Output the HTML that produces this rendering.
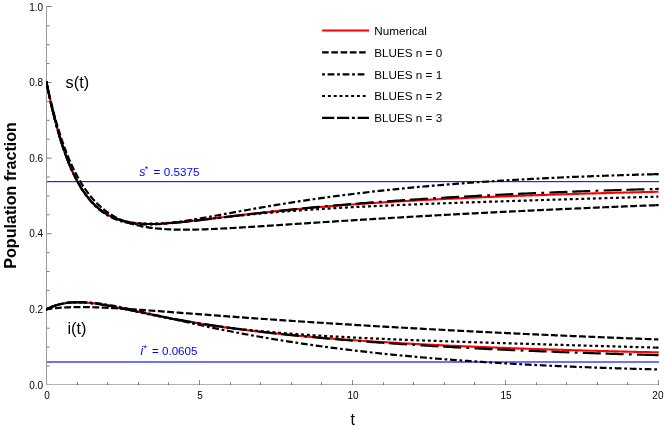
<!DOCTYPE html>
<html><head><meta charset="utf-8"><title>BLUES SIRS plot</title>
<style>html,body{margin:0;padding:0;background:#fff;}body{width:664px;height:430px;overflow:hidden;position:relative;font-family:"Liberation Sans",sans-serif;}</style>
</head><body>
<svg width="664" height="430" viewBox="0 0 664 430" style="position:absolute;left:0;top:0;will-change:transform">
<rect width="664" height="430" fill="#fff"/>
<g stroke="#787878" stroke-width="1" shape-rendering="crispEdges">
<line x1="46.5" x2="46.5" y1="6" y2="385" stroke="#9a9a9a"/>
<line x1="46" x2="659" y1="384.5" y2="384.5" stroke="#b2b2b2"/>
</g>
<g stroke="#7a7a7a" stroke-width="1">
<line x1="47" x2="49.50" y1="366.00" y2="366.00"/>
<line x1="47" x2="49.50" y1="347.10" y2="347.10"/>
<line x1="47" x2="49.50" y1="328.20" y2="328.20"/>
<line x1="47" x2="51.50" y1="309.30" y2="309.30"/>
<line x1="47" x2="49.50" y1="290.40" y2="290.40"/>
<line x1="47" x2="49.50" y1="271.50" y2="271.50"/>
<line x1="47" x2="49.50" y1="252.60" y2="252.60"/>
<line x1="47" x2="51.50" y1="233.70" y2="233.70"/>
<line x1="47" x2="49.50" y1="214.80" y2="214.80"/>
<line x1="47" x2="49.50" y1="195.90" y2="195.90"/>
<line x1="47" x2="49.50" y1="177.00" y2="177.00"/>
<line x1="47" x2="51.50" y1="158.10" y2="158.10"/>
<line x1="47" x2="49.50" y1="139.20" y2="139.20"/>
<line x1="47" x2="49.50" y1="120.30" y2="120.30"/>
<line x1="47" x2="49.50" y1="101.40" y2="101.40"/>
<line x1="47" x2="51.50" y1="82.50" y2="82.50"/>
<line x1="47" x2="49.50" y1="63.60" y2="63.60"/>
<line x1="47" x2="49.50" y1="44.70" y2="44.70"/>
<line x1="47" x2="49.50" y1="25.80" y2="25.80"/>
<line x1="47" x2="51.50" y1="6.50" y2="6.50"/>
</g>
<g stroke="#747474" stroke-width="1" shape-rendering="crispEdges">
<line x1="77.50" x2="77.50" y1="384" y2="382.00" stroke="#8c8c8c"/><line x1="77.50" x2="77.50" y1="384" y2="385" stroke="#6c6c6c"/>
<line x1="107.50" x2="107.50" y1="384" y2="382.00" stroke="#8c8c8c"/><line x1="107.50" x2="107.50" y1="384" y2="385" stroke="#6c6c6c"/>
<line x1="138.50" x2="138.50" y1="384" y2="382.00" stroke="#8c8c8c"/><line x1="138.50" x2="138.50" y1="384" y2="385" stroke="#6c6c6c"/>
<line x1="168.50" x2="168.50" y1="384" y2="382.00" stroke="#8c8c8c"/><line x1="168.50" x2="168.50" y1="384" y2="385" stroke="#6c6c6c"/>
<line x1="199.50" x2="199.50" y1="384" y2="380.00" stroke="#8c8c8c"/><line x1="199.50" x2="199.50" y1="384" y2="385" stroke="#6c6c6c"/>
<line x1="230.50" x2="230.50" y1="384" y2="382.00" stroke="#8c8c8c"/><line x1="230.50" x2="230.50" y1="384" y2="385" stroke="#6c6c6c"/>
<line x1="260.50" x2="260.50" y1="384" y2="382.00" stroke="#8c8c8c"/><line x1="260.50" x2="260.50" y1="384" y2="385" stroke="#6c6c6c"/>
<line x1="291.50" x2="291.50" y1="384" y2="382.00" stroke="#8c8c8c"/><line x1="291.50" x2="291.50" y1="384" y2="385" stroke="#6c6c6c"/>
<line x1="321.50" x2="321.50" y1="384" y2="382.00" stroke="#8c8c8c"/><line x1="321.50" x2="321.50" y1="384" y2="385" stroke="#6c6c6c"/>
<line x1="352.50" x2="352.50" y1="384" y2="380.00" stroke="#8c8c8c"/><line x1="352.50" x2="352.50" y1="384" y2="385" stroke="#6c6c6c"/>
<line x1="383.50" x2="383.50" y1="384" y2="382.00" stroke="#8c8c8c"/><line x1="383.50" x2="383.50" y1="384" y2="385" stroke="#6c6c6c"/>
<line x1="413.50" x2="413.50" y1="384" y2="382.00" stroke="#8c8c8c"/><line x1="413.50" x2="413.50" y1="384" y2="385" stroke="#6c6c6c"/>
<line x1="444.50" x2="444.50" y1="384" y2="382.00" stroke="#8c8c8c"/><line x1="444.50" x2="444.50" y1="384" y2="385" stroke="#6c6c6c"/>
<line x1="474.50" x2="474.50" y1="384" y2="382.00" stroke="#8c8c8c"/><line x1="474.50" x2="474.50" y1="384" y2="385" stroke="#6c6c6c"/>
<line x1="505.50" x2="505.50" y1="384" y2="380.00" stroke="#8c8c8c"/><line x1="505.50" x2="505.50" y1="384" y2="385" stroke="#6c6c6c"/>
<line x1="536.50" x2="536.50" y1="384" y2="382.00" stroke="#8c8c8c"/><line x1="536.50" x2="536.50" y1="384" y2="385" stroke="#6c6c6c"/>
<line x1="566.50" x2="566.50" y1="384" y2="382.00" stroke="#8c8c8c"/><line x1="566.50" x2="566.50" y1="384" y2="385" stroke="#6c6c6c"/>
<line x1="597.50" x2="597.50" y1="384" y2="382.00" stroke="#8c8c8c"/><line x1="597.50" x2="597.50" y1="384" y2="385" stroke="#6c6c6c"/>
<line x1="627.50" x2="627.50" y1="384" y2="382.00" stroke="#8c8c8c"/><line x1="627.50" x2="627.50" y1="384" y2="385" stroke="#6c6c6c"/>
<line x1="658.50" x2="658.50" y1="384" y2="380.00" stroke="#8c8c8c"/><line x1="658.50" x2="658.50" y1="384" y2="385" stroke="#6c6c6c"/>
</g>
<g shape-rendering="crispEdges">
<rect x="47" y="181" width="612" height="1" fill="#2020ff"/><rect x="47" y="182" width="612" height="1" fill="#d4d4ff"/>
<rect x="47" y="361" width="612" height="1" fill="#7070ff"/><rect x="47" y="362" width="612" height="1" fill="#7070ff"/>
</g>
<clipPath id="cp"><rect x="46" y="0" width="612.7" height="430"/></clipPath><g clip-path="url(#cp)">
<path d="M46.25 81.23 L46.50 82.50 L48.95 94.38 L51.40 105.39 L53.84 115.59 L56.29 125.03 L58.74 133.75 L61.19 141.81 L63.64 149.25 L66.08 156.11 L68.53 162.44 L70.98 168.26 L73.43 173.62 L75.88 178.54 L78.32 183.07 L80.77 187.22 L83.22 191.02 L85.67 194.50 L88.12 197.68 L90.56 200.58 L93.01 203.23 L95.46 205.63 L97.91 207.82 L100.36 209.81 L102.80 211.61 L105.25 213.23 L107.70 214.69 L110.15 216.00 L112.60 217.18 L115.04 218.22 L117.49 219.15 L119.94 219.98 L122.39 220.70 L124.84 221.33 L127.28 221.88 L129.73 222.35 L132.18 222.75 L134.63 223.08 L137.08 223.35 L139.52 223.57 L141.97 223.73 L144.42 223.85 L146.87 223.93 L149.32 223.97 L151.76 223.97 L154.21 223.94 L156.66 223.88 L159.11 223.79 L161.56 223.68 L164.00 223.54 L166.45 223.39 L168.90 223.21 L171.35 223.03 L173.80 222.82 L176.24 222.60 L178.69 222.37 L181.14 222.13 L183.59 221.88 L186.04 221.62 L188.48 221.36 L190.93 221.09 L193.38 220.81 L195.83 220.52 L198.28 220.24 L200.72 219.95 L203.17 219.65 L205.62 219.36 L208.07 219.06 L210.52 218.76 L212.96 218.46 L215.41 218.16 L217.86 217.86 L220.31 217.56 L222.76 217.26 L225.20 216.96 L227.65 216.66 L230.10 216.37 L232.55 216.07 L235.00 215.78 L237.44 215.48 L239.89 215.19 L242.34 214.90 L244.79 214.62 L247.24 214.33 L249.68 214.05 L252.13 213.77 L254.58 213.49 L257.03 213.22 L259.48 212.94 L261.92 212.67 L264.37 212.41 L266.82 212.14 L269.27 211.88 L271.72 211.62 L274.16 211.36 L276.61 211.11 L279.06 210.86 L281.51 210.61 L283.96 210.36 L286.40 210.12 L288.85 209.88 L291.30 209.64 L293.75 209.40 L296.20 209.17 L298.64 208.94 L301.09 208.71 L303.54 208.49 L305.99 208.26 L308.44 208.04 L310.88 207.83 L313.33 207.61 L315.78 207.40 L318.23 207.19 L320.68 206.98 L323.12 206.77 L325.57 206.57 L328.02 206.37 L330.47 206.17 L332.92 205.97 L335.36 205.78 L337.81 205.59 L340.26 205.40 L342.71 205.21 L345.16 205.03 L347.60 204.84 L350.05 204.66 L352.50 204.48 L354.95 204.31 L357.40 204.13 L359.84 203.96 L362.29 203.79 L364.74 203.62 L367.19 203.45 L369.64 203.28 L372.08 203.12 L374.53 202.96 L376.98 202.80 L379.43 202.64 L381.88 202.48 L384.32 202.32 L386.77 202.17 L389.22 202.02 L391.67 201.87 L394.12 201.72 L396.56 201.57 L399.01 201.43 L401.46 201.28 L403.91 201.14 L406.36 201.00 L408.80 200.86 L411.25 200.72 L413.70 200.59 L416.15 200.45 L418.60 200.32 L421.04 200.18 L423.49 200.05 L425.94 199.92 L428.39 199.79 L430.84 199.67 L433.28 199.54 L435.73 199.42 L438.18 199.29 L440.63 199.17 L443.08 199.05 L445.52 198.93 L447.97 198.81 L450.42 198.69 L452.87 198.58 L455.32 198.46 L457.76 198.35 L460.21 198.23 L462.66 198.12 L465.11 198.01 L467.56 197.90 L470.00 197.79 L472.45 197.68 L474.90 197.58 L477.35 197.47 L479.80 197.37 L482.24 197.26 L484.69 197.16 L487.14 197.06 L489.59 196.96 L492.04 196.86 L494.48 196.76 L496.93 196.66 L499.38 196.56 L501.83 196.47 L504.28 196.37 L506.72 196.27 L509.17 196.18 L511.62 196.09 L514.07 196.00 L516.52 195.90 L518.96 195.81 L521.41 195.72 L523.86 195.63 L526.31 195.55 L528.76 195.46 L531.20 195.37 L533.65 195.29 L536.10 195.20 L538.55 195.12 L541.00 195.03 L543.44 194.95 L545.89 194.87 L548.34 194.78 L550.79 194.70 L553.24 194.62 L555.68 194.54 L558.13 194.46 L560.58 194.39 L563.03 194.31 L565.48 194.23 L567.92 194.15 L570.37 194.08 L572.82 194.00 L575.27 193.93 L577.72 193.86 L580.16 193.78 L582.61 193.71 L585.06 193.64 L587.51 193.57 L589.96 193.49 L592.40 193.42 L594.85 193.35 L597.30 193.28 L599.75 193.22 L602.20 193.15 L604.64 193.08 L607.09 193.01 L609.54 192.95 L611.99 192.88 L614.44 192.81 L616.88 192.75 L619.33 192.68 L621.78 192.62 L624.23 192.56 L626.68 192.49 L629.12 192.43 L631.57 192.37 L634.02 192.31 L636.47 192.25 L638.92 192.18 L641.36 192.12 L643.81 192.06 L646.26 192.01 L648.71 191.95 L651.16 191.89 L653.60 191.83 L656.05 191.77 L658.50 191.71 L658.75 191.71" fill="none" stroke="#ff0000" stroke-width="2.1"/>
<path d="M45.34 309.90 L46.50 309.30 L48.95 308.10 L51.40 307.03 L53.84 306.08 L56.29 305.26 L58.74 304.55 L61.19 303.95 L63.64 303.46 L66.08 303.05 L68.53 302.74 L70.98 302.52 L73.43 302.37 L75.88 302.29 L78.32 302.28 L80.77 302.32 L83.22 302.43 L85.67 302.58 L88.12 302.78 L90.56 303.02 L93.01 303.30 L95.46 303.62 L97.91 303.96 L100.36 304.33 L102.80 304.73 L105.25 305.14 L107.70 305.58 L110.15 306.03 L112.60 306.49 L115.04 306.97 L117.49 307.45 L119.94 307.95 L122.39 308.45 L124.84 308.96 L127.28 309.47 L129.73 309.98 L132.18 310.50 L134.63 311.01 L137.08 311.53 L139.52 312.05 L141.97 312.56 L144.42 313.08 L146.87 313.59 L149.32 314.10 L151.76 314.60 L154.21 315.10 L156.66 315.60 L159.11 316.09 L161.56 316.58 L164.00 317.06 L166.45 317.54 L168.90 318.01 L171.35 318.48 L173.80 318.94 L176.24 319.40 L178.69 319.85 L181.14 320.29 L183.59 320.73 L186.04 321.16 L188.48 321.59 L190.93 322.01 L193.38 322.43 L195.83 322.84 L198.28 323.25 L200.72 323.64 L203.17 324.04 L205.62 324.43 L208.07 324.81 L210.52 325.19 L212.96 325.56 L215.41 325.92 L217.86 326.29 L220.31 326.64 L222.76 326.99 L225.20 327.34 L227.65 327.68 L230.10 328.02 L232.55 328.35 L235.00 328.67 L237.44 329.00 L239.89 329.31 L242.34 329.63 L244.79 329.93 L247.24 330.24 L249.68 330.54 L252.13 330.83 L254.58 331.12 L257.03 331.41 L259.48 331.69 L261.92 331.97 L264.37 332.25 L266.82 332.52 L269.27 332.79 L271.72 333.05 L274.16 333.31 L276.61 333.57 L279.06 333.82 L281.51 334.07 L283.96 334.32 L286.40 334.56 L288.85 334.80 L291.30 335.04 L293.75 335.28 L296.20 335.51 L298.64 335.74 L301.09 335.96 L303.54 336.18 L305.99 336.40 L308.44 336.62 L310.88 336.83 L313.33 337.04 L315.78 337.25 L318.23 337.46 L320.68 337.66 L323.12 337.86 L325.57 338.06 L328.02 338.26 L330.47 338.45 L332.92 338.64 L335.36 338.83 L337.81 339.02 L340.26 339.20 L342.71 339.38 L345.16 339.56 L347.60 339.74 L350.05 339.92 L352.50 340.09 L354.95 340.26 L357.40 340.43 L359.84 340.60 L362.29 340.76 L364.74 340.93 L367.19 341.09 L369.64 341.25 L372.08 341.41 L374.53 341.57 L376.98 341.72 L379.43 341.87 L381.88 342.02 L384.32 342.17 L386.77 342.32 L389.22 342.47 L391.67 342.61 L394.12 342.76 L396.56 342.90 L399.01 343.04 L401.46 343.18 L403.91 343.32 L406.36 343.45 L408.80 343.59 L411.25 343.72 L413.70 343.85 L416.15 343.98 L418.60 344.11 L421.04 344.24 L423.49 344.37 L425.94 344.49 L428.39 344.61 L430.84 344.74 L433.28 344.86 L435.73 344.98 L438.18 345.10 L440.63 345.22 L443.08 345.33 L445.52 345.45 L447.97 345.56 L450.42 345.68 L452.87 345.79 L455.32 345.90 L457.76 346.01 L460.21 346.12 L462.66 346.23 L465.11 346.33 L467.56 346.44 L470.00 346.54 L472.45 346.65 L474.90 346.75 L477.35 346.85 L479.80 346.95 L482.24 347.05 L484.69 347.15 L487.14 347.25 L489.59 347.35 L492.04 347.44 L494.48 347.54 L496.93 347.63 L499.38 347.73 L501.83 347.82 L504.28 347.91 L506.72 348.00 L509.17 348.09 L511.62 348.18 L514.07 348.27 L516.52 348.36 L518.96 348.45 L521.41 348.53 L523.86 348.62 L526.31 348.71 L528.76 348.79 L531.20 348.87 L533.65 348.96 L536.10 349.04 L538.55 349.12 L541.00 349.20 L543.44 349.28 L545.89 349.36 L548.34 349.44 L550.79 349.52 L553.24 349.59 L555.68 349.67 L558.13 349.75 L560.58 349.82 L563.03 349.90 L565.48 349.97 L567.92 350.05 L570.37 350.12 L572.82 350.19 L575.27 350.26 L577.72 350.33 L580.16 350.41 L582.61 350.48 L585.06 350.54 L587.51 350.61 L589.96 350.68 L592.40 350.75 L594.85 350.82 L597.30 350.88 L599.75 350.95 L602.20 351.02 L604.64 351.08 L607.09 351.15 L609.54 351.21 L611.99 351.27 L614.44 351.34 L616.88 351.40 L619.33 351.46 L621.78 351.52 L624.23 351.59 L626.68 351.65 L629.12 351.71 L631.57 351.77 L634.02 351.83 L636.47 351.89 L638.92 351.94 L641.36 352.00 L643.81 352.06 L646.26 352.12 L648.71 352.17 L651.16 352.23 L653.60 352.29 L656.05 352.34 L658.50 352.40 L659.66 352.42" fill="none" stroke="#ff0000" stroke-width="2.1"/>
<path d="M658.50 205.11 L656.05 205.20 L653.60 205.30 L651.16 205.39 L648.71 205.49 L646.26 205.58 L643.81 205.68 L641.36 205.77 L638.92 205.87 L636.47 205.97 L634.02 206.06 L631.57 206.16 L629.12 206.26 L626.68 206.36 L624.23 206.46 L621.78 206.56 L619.33 206.66 L616.88 206.76 L614.44 206.86 L611.99 206.96 L609.54 207.06 L607.09 207.16 L604.64 207.26 L602.20 207.37 L599.75 207.47 L597.30 207.57 L594.85 207.68 L592.40 207.78 L589.96 207.89 L587.51 207.99 L585.06 208.10 L582.61 208.20 L580.16 208.31 L577.72 208.41 L575.27 208.52 L572.82 208.63 L570.37 208.74 L567.92 208.85 L565.48 208.95 L563.03 209.06 L560.58 209.17 L558.13 209.28 L555.68 209.39 L553.24 209.51 L550.79 209.62 L548.34 209.73 L545.89 209.84 L543.44 209.95 L541.00 210.07 L538.55 210.18 L536.10 210.30 L533.65 210.41 L531.20 210.53 L528.76 210.64 L526.31 210.76 L523.86 210.87 L521.41 210.99 L518.96 211.11 L516.52 211.23 L514.07 211.35 L511.62 211.46 L509.17 211.58 L506.72 211.70 L504.28 211.82 L501.83 211.94 L499.38 212.07 L496.93 212.19 L494.48 212.31 L492.04 212.43 L489.59 212.56 L487.14 212.68 L484.69 212.80 L482.24 212.93 L479.80 213.05 L477.35 213.18 L474.90 213.31 L472.45 213.43 L470.00 213.56 L467.56 213.69 L465.11 213.82 L462.66 213.95 L460.21 214.07 L457.76 214.20 L455.32 214.34 L452.87 214.47 L450.42 214.60 L447.97 214.73 L445.52 214.86 L443.08 214.99 L440.63 215.13 L438.18 215.26 L435.73 215.40 L433.28 215.53 L430.84 215.67 L428.39 215.80 L425.94 215.94 L423.49 216.08 L421.04 216.22 L418.60 216.35 L416.15 216.49 L413.70 216.63 L411.25 216.77 L408.80 216.91 L406.36 217.05 L403.91 217.20 L401.46 217.34 L399.01 217.48 L396.56 217.62 L394.12 217.77 L391.67 217.91 L389.22 218.06 L386.77 218.20 L384.32 218.35 L381.88 218.49 L379.43 218.64 L376.98 218.79 L374.53 218.94 L372.08 219.09 L369.64 219.23 L367.19 219.38 L364.74 219.53 L362.29 219.69 L359.84 219.84 L357.40 219.99 L354.95 220.14 L352.50 220.29 L350.05 220.45 L347.60 220.60 L345.16 220.76 L342.71 220.91 L340.26 221.07 L337.81 221.22 L335.36 221.38 L332.92 221.54 L330.47 221.69 L328.02 221.85 L325.57 222.01 L323.12 222.17 L320.68 222.33 L318.23 222.49 L315.78 222.65 L313.33 222.81 L310.88 222.97 L308.44 223.13 L305.99 223.29 L303.54 223.45 L301.09 223.61 L298.64 223.77 L296.20 223.93 L293.75 224.10 L291.30 224.26 L288.85 224.42 L286.40 224.58 L283.96 224.74 L281.51 224.91 L279.06 225.07 L276.61 225.23 L274.16 225.39 L271.72 225.55 L269.27 225.71 L266.82 225.87 L264.37 226.03 L261.92 226.19 L259.48 226.35 L257.03 226.51 L254.58 226.66 L252.13 226.82 L249.68 226.97 L247.24 227.12 L244.79 227.27 L242.34 227.42 L239.89 227.57 L237.44 227.71 L235.00 227.86 L232.55 228.00 L230.10 228.13 L227.65 228.27 L225.20 228.40 L222.76 228.52 L220.31 228.65 L217.86 228.77 L215.41 228.88 L212.96 228.99 L210.52 229.09 L208.07 229.19 L205.62 229.28 L203.17 229.36 L200.72 229.44 L198.28 229.51 L195.83 229.56 L193.38 229.61 L190.93 229.65 L188.48 229.68 L186.04 229.69 L183.59 229.69 L181.14 229.68 L178.69 229.65 L176.24 229.61 L173.80 229.55 L171.35 229.47 L168.90 229.36 L166.45 229.24 L164.00 229.09 L161.56 228.92 L159.11 228.71 L156.66 228.48 L154.21 228.22 L151.76 227.92 L149.32 227.58 L146.87 227.20 L144.42 226.78 L141.97 226.31 L139.52 225.80 L137.08 225.23 L134.63 224.60 L132.18 223.90 L129.73 223.14 L127.28 222.31 L124.84 221.40 L122.39 220.41 L119.94 219.33 L117.49 218.15 L115.04 216.87 L112.60 215.47 L110.15 213.96 L107.70 212.32 L105.25 210.53 L102.80 208.60 L100.36 206.51 L97.91 204.25 L95.46 201.80 L93.01 199.15 L90.56 196.29 L88.12 193.20 L85.67 189.86 L83.22 186.26 L80.77 182.37 L78.32 178.17 L75.88 173.64 L73.43 168.76 L70.98 163.50 L68.53 157.83 L66.08 151.72 L63.64 145.14 L61.19 138.05 L58.74 130.41 L56.29 122.19 L53.84 113.33 L51.40 103.80 L48.95 93.54 L46.50 82.50 L46.23 81.23" fill="none" stroke="#000" stroke-width="2.20" stroke-dasharray="6.9 2.43" stroke-dashoffset="6.56"/><path d="M46.23 81.23 L46.55 82.75" stroke="#000" stroke-width="2.20"/>
<path d="M655.70 205.22 L658.80 205.11" stroke="#000" stroke-width="2.20"/>
<path d="M658.50 339.45 L656.05 339.36 L653.60 339.27 L651.16 339.18 L648.71 339.09 L646.26 338.99 L643.81 338.90 L641.36 338.81 L638.92 338.72 L636.47 338.62 L634.02 338.53 L631.57 338.43 L629.12 338.34 L626.68 338.24 L624.23 338.15 L621.78 338.05 L619.33 337.96 L616.88 337.86 L614.44 337.76 L611.99 337.66 L609.54 337.57 L607.09 337.47 L604.64 337.37 L602.20 337.27 L599.75 337.17 L597.30 337.07 L594.85 336.97 L592.40 336.87 L589.96 336.77 L587.51 336.67 L585.06 336.57 L582.61 336.46 L580.16 336.36 L577.72 336.26 L575.27 336.15 L572.82 336.05 L570.37 335.95 L567.92 335.84 L565.48 335.74 L563.03 335.63 L560.58 335.52 L558.13 335.42 L555.68 335.31 L553.24 335.20 L550.79 335.10 L548.34 334.99 L545.89 334.88 L543.44 334.77 L541.00 334.66 L538.55 334.55 L536.10 334.44 L533.65 334.33 L531.20 334.22 L528.76 334.11 L526.31 333.99 L523.86 333.88 L521.41 333.77 L518.96 333.65 L516.52 333.54 L514.07 333.43 L511.62 333.31 L509.17 333.20 L506.72 333.08 L504.28 332.96 L501.83 332.85 L499.38 332.73 L496.93 332.61 L494.48 332.49 L492.04 332.38 L489.59 332.26 L487.14 332.14 L484.69 332.02 L482.24 331.90 L479.80 331.78 L477.35 331.65 L474.90 331.53 L472.45 331.41 L470.00 331.29 L467.56 331.16 L465.11 331.04 L462.66 330.91 L460.21 330.79 L457.76 330.66 L455.32 330.54 L452.87 330.41 L450.42 330.28 L447.97 330.16 L445.52 330.03 L443.08 329.90 L440.63 329.77 L438.18 329.64 L435.73 329.51 L433.28 329.38 L430.84 329.25 L428.39 329.12 L425.94 328.99 L423.49 328.85 L421.04 328.72 L418.60 328.59 L416.15 328.45 L413.70 328.32 L411.25 328.18 L408.80 328.05 L406.36 327.91 L403.91 327.77 L401.46 327.63 L399.01 327.50 L396.56 327.36 L394.12 327.22 L391.67 327.08 L389.22 326.94 L386.77 326.80 L384.32 326.66 L381.88 326.51 L379.43 326.37 L376.98 326.23 L374.53 326.08 L372.08 325.94 L369.64 325.80 L367.19 325.65 L364.74 325.50 L362.29 325.36 L359.84 325.21 L357.40 325.06 L354.95 324.91 L352.50 324.76 L350.05 324.61 L347.60 324.46 L345.16 324.31 L342.71 324.16 L340.26 324.01 L337.81 323.86 L335.36 323.70 L332.92 323.55 L330.47 323.40 L328.02 323.24 L325.57 323.09 L323.12 322.93 L320.68 322.77 L318.23 322.62 L315.78 322.46 L313.33 322.30 L310.88 322.14 L308.44 321.98 L305.99 321.82 L303.54 321.66 L301.09 321.50 L298.64 321.33 L296.20 321.17 L293.75 321.01 L291.30 320.84 L288.85 320.68 L286.40 320.51 L283.96 320.35 L281.51 320.18 L279.06 320.01 L276.61 319.84 L274.16 319.67 L271.72 319.50 L269.27 319.34 L266.82 319.16 L264.37 318.99 L261.92 318.82 L259.48 318.65 L257.03 318.48 L254.58 318.30 L252.13 318.13 L249.68 317.95 L247.24 317.78 L244.79 317.60 L242.34 317.43 L239.89 317.25 L237.44 317.07 L235.00 316.89 L232.55 316.71 L230.10 316.53 L227.65 316.35 L225.20 316.17 L222.76 315.99 L220.31 315.81 L217.86 315.63 L215.41 315.45 L212.96 315.26 L210.52 315.08 L208.07 314.90 L205.62 314.71 L203.17 314.53 L200.72 314.34 L198.28 314.16 L195.83 313.97 L193.38 313.79 L190.93 313.60 L188.48 313.42 L186.04 313.23 L183.59 313.05 L181.14 312.86 L178.69 312.68 L176.24 312.49 L173.80 312.31 L171.35 312.12 L168.90 311.94 L166.45 311.75 L164.00 311.57 L161.56 311.38 L159.11 311.20 L156.66 311.02 L154.21 310.84 L151.76 310.66 L149.32 310.48 L146.87 310.31 L144.42 310.13 L141.97 309.96 L139.52 309.79 L137.08 309.62 L134.63 309.45 L132.18 309.28 L129.73 309.12 L127.28 308.96 L124.84 308.81 L122.39 308.66 L119.94 308.51 L117.49 308.37 L115.04 308.23 L112.60 308.09 L110.15 307.97 L107.70 307.84 L105.25 307.73 L102.80 307.62 L100.36 307.52 L97.91 307.43 L95.46 307.35 L93.01 307.27 L90.56 307.21 L88.12 307.16 L85.67 307.12 L83.22 307.10 L80.77 307.09 L78.32 307.10 L75.88 307.12 L73.43 307.16 L70.98 307.22 L68.53 307.30 L66.08 307.40 L63.64 307.53 L61.19 307.69 L58.74 307.87 L56.29 308.09 L53.84 308.33 L51.40 308.62 L48.95 308.94 L46.50 309.30 L45.22 309.50" fill="none" stroke="#000" stroke-width="2.20" stroke-dasharray="6.9 2.477" stroke-dashoffset="2.38"/><path d="M45.22 309.50 L46.76 309.26" stroke="#000" stroke-width="2.20"/>
<path d="M658.50 174.10 L656.05 174.17 L653.60 174.23 L651.16 174.29 L648.71 174.36 L646.26 174.43 L643.81 174.50 L641.36 174.56 L638.92 174.64 L636.47 174.71 L634.02 174.78 L631.57 174.85 L629.12 174.93 L626.68 175.00 L624.23 175.08 L621.78 175.16 L619.33 175.24 L616.88 175.32 L614.44 175.40 L611.99 175.48 L609.54 175.56 L607.09 175.65 L604.64 175.74 L602.20 175.82 L599.75 175.91 L597.30 176.00 L594.85 176.09 L592.40 176.19 L589.96 176.28 L587.51 176.38 L585.06 176.47 L582.61 176.57 L580.16 176.67 L577.72 176.77 L575.27 176.87 L572.82 176.97 L570.37 177.08 L567.92 177.19 L565.48 177.29 L563.03 177.40 L560.58 177.51 L558.13 177.62 L555.68 177.74 L553.24 177.85 L550.79 177.97 L548.34 178.09 L545.89 178.21 L543.44 178.33 L541.00 178.45 L538.55 178.57 L536.10 178.70 L533.65 178.83 L531.20 178.96 L528.76 179.09 L526.31 179.22 L523.86 179.35 L521.41 179.49 L518.96 179.63 L516.52 179.77 L514.07 179.91 L511.62 180.05 L509.17 180.20 L506.72 180.34 L504.28 180.49 L501.83 180.64 L499.38 180.79 L496.93 180.95 L494.48 181.10 L492.04 181.26 L489.59 181.42 L487.14 181.58 L484.69 181.74 L482.24 181.91 L479.80 182.08 L477.35 182.24 L474.90 182.42 L472.45 182.59 L470.00 182.76 L467.56 182.94 L465.11 183.12 L462.66 183.30 L460.21 183.49 L457.76 183.67 L455.32 183.86 L452.87 184.05 L450.42 184.25 L447.97 184.44 L445.52 184.64 L443.08 184.84 L440.63 185.04 L438.18 185.24 L435.73 185.45 L433.28 185.66 L430.84 185.87 L428.39 186.08 L425.94 186.30 L423.49 186.52 L421.04 186.74 L418.60 186.96 L416.15 187.19 L413.70 187.42 L411.25 187.65 L408.80 187.88 L406.36 188.12 L403.91 188.36 L401.46 188.60 L399.01 188.84 L396.56 189.09 L394.12 189.34 L391.67 189.59 L389.22 189.85 L386.77 190.10 L384.32 190.36 L381.88 190.63 L379.43 190.89 L376.98 191.16 L374.53 191.44 L372.08 191.71 L369.64 191.99 L367.19 192.27 L364.74 192.55 L362.29 192.84 L359.84 193.13 L357.40 193.42 L354.95 193.72 L352.50 194.02 L350.05 194.32 L347.60 194.63 L345.16 194.94 L342.71 195.25 L340.26 195.56 L337.81 195.88 L335.36 196.20 L332.92 196.53 L330.47 196.86 L328.02 197.19 L325.57 197.52 L323.12 197.86 L320.68 198.20 L318.23 198.55 L315.78 198.89 L313.33 199.25 L310.88 199.60 L308.44 199.96 L305.99 200.32 L303.54 200.69 L301.09 201.05 L298.64 201.43 L296.20 201.80 L293.75 202.18 L291.30 202.56 L288.85 202.94 L286.40 203.33 L283.96 203.72 L281.51 204.12 L279.06 204.52 L276.61 204.92 L274.16 205.32 L271.72 205.73 L269.27 206.14 L266.82 206.56 L264.37 206.97 L261.92 207.39 L259.48 207.81 L257.03 208.24 L254.58 208.67 L252.13 209.10 L249.68 209.53 L247.24 209.96 L244.79 210.40 L242.34 210.84 L239.89 211.28 L237.44 211.72 L235.00 212.16 L232.55 212.61 L230.10 213.05 L227.65 213.50 L225.20 213.94 L222.76 214.39 L220.31 214.84 L217.86 215.28 L215.41 215.73 L212.96 216.17 L210.52 216.61 L208.07 217.05 L205.62 217.48 L203.17 217.92 L200.72 218.34 L198.28 218.77 L195.83 219.18 L193.38 219.60 L190.93 220.00 L188.48 220.40 L186.04 220.78 L183.59 221.16 L181.14 221.52 L178.69 221.88 L176.24 222.21 L173.80 222.54 L171.35 222.84 L168.90 223.13 L166.45 223.40 L164.00 223.64 L161.56 223.86 L159.11 224.05 L156.66 224.22 L154.21 224.35 L151.76 224.45 L149.32 224.51 L146.87 224.53 L144.42 224.50 L141.97 224.43 L139.52 224.31 L137.08 224.13 L134.63 223.88 L132.18 223.58 L129.73 223.20 L127.28 222.74 L124.84 222.20 L122.39 221.57 L119.94 220.84 L117.49 220.01 L115.04 219.06 L112.60 218.00 L110.15 216.79 L107.70 215.45 L105.25 213.96 L102.80 212.30 L100.36 210.46 L97.91 208.43 L95.46 206.19 L93.01 203.73 L90.56 201.03 L88.12 198.08 L85.67 194.84 L83.22 191.31 L80.77 187.46 L78.32 183.26 L75.88 178.70 L73.43 173.73 L70.98 168.34 L68.53 162.48 L66.08 156.13 L63.64 149.25 L61.19 141.80 L58.74 133.73 L56.29 125.01 L53.84 115.58 L51.40 105.39 L48.95 94.38 L46.50 82.50 L46.25 81.23" fill="none" stroke="#000" stroke-width="2.20" stroke-dasharray="6.8 2.7 2.8 2.7" stroke-dashoffset="10.30"/><path d="M46.25 81.23 L46.55 82.75" stroke="#000" stroke-width="2.20"/>
<path d="M653.80 174.22 L658.80 174.10" stroke="#000" stroke-width="2.20"/>
<path d="M658.50 369.45 L656.05 369.39 L653.60 369.33 L651.16 369.26 L648.71 369.20 L646.26 369.14 L643.81 369.07 L641.36 369.00 L638.92 368.94 L636.47 368.87 L634.02 368.80 L631.57 368.73 L629.12 368.66 L626.68 368.58 L624.23 368.51 L621.78 368.43 L619.33 368.36 L616.88 368.28 L614.44 368.20 L611.99 368.12 L609.54 368.04 L607.09 367.96 L604.64 367.88 L602.20 367.80 L599.75 367.71 L597.30 367.62 L594.85 367.54 L592.40 367.45 L589.96 367.36 L587.51 367.26 L585.06 367.17 L582.61 367.08 L580.16 366.98 L577.72 366.89 L575.27 366.79 L572.82 366.69 L570.37 366.59 L567.92 366.49 L565.48 366.38 L563.03 366.28 L560.58 366.17 L558.13 366.06 L555.68 365.96 L553.24 365.84 L550.79 365.73 L548.34 365.62 L545.89 365.50 L543.44 365.39 L541.00 365.27 L538.55 365.15 L536.10 365.03 L533.65 364.91 L531.20 364.78 L528.76 364.66 L526.31 364.53 L523.86 364.40 L521.41 364.27 L518.96 364.14 L516.52 364.00 L514.07 363.87 L511.62 363.73 L509.17 363.59 L506.72 363.45 L504.28 363.31 L501.83 363.16 L499.38 363.02 L496.93 362.87 L494.48 362.72 L492.04 362.57 L489.59 362.42 L487.14 362.26 L484.69 362.10 L482.24 361.94 L479.80 361.78 L477.35 361.62 L474.90 361.46 L472.45 361.29 L470.00 361.12 L467.56 360.95 L465.11 360.78 L462.66 360.60 L460.21 360.43 L457.76 360.25 L455.32 360.06 L452.87 359.88 L450.42 359.70 L447.97 359.51 L445.52 359.32 L443.08 359.13 L440.63 358.93 L438.18 358.74 L435.73 358.54 L433.28 358.34 L430.84 358.13 L428.39 357.93 L425.94 357.72 L423.49 357.51 L421.04 357.30 L418.60 357.08 L416.15 356.86 L413.70 356.64 L411.25 356.42 L408.80 356.20 L406.36 355.97 L403.91 355.74 L401.46 355.51 L399.01 355.27 L396.56 355.03 L394.12 354.79 L391.67 354.55 L389.22 354.30 L386.77 354.05 L384.32 353.80 L381.88 353.55 L379.43 353.29 L376.98 353.03 L374.53 352.77 L372.08 352.50 L369.64 352.23 L367.19 351.96 L364.74 351.69 L362.29 351.41 L359.84 351.13 L357.40 350.85 L354.95 350.56 L352.50 350.27 L350.05 349.98 L347.60 349.68 L345.16 349.39 L342.71 349.08 L340.26 348.78 L337.81 348.47 L335.36 348.16 L332.92 347.84 L330.47 347.52 L328.02 347.20 L325.57 346.88 L323.12 346.55 L320.68 346.22 L318.23 345.88 L315.78 345.54 L313.33 345.20 L310.88 344.85 L308.44 344.50 L305.99 344.15 L303.54 343.79 L301.09 343.43 L298.64 343.07 L296.20 342.70 L293.75 342.33 L291.30 341.95 L288.85 341.58 L286.40 341.19 L283.96 340.81 L281.51 340.41 L279.06 340.02 L276.61 339.62 L274.16 339.22 L271.72 338.81 L269.27 338.40 L266.82 337.99 L264.37 337.57 L261.92 337.15 L259.48 336.72 L257.03 336.29 L254.58 335.85 L252.13 335.41 L249.68 334.97 L247.24 334.52 L244.79 334.07 L242.34 333.62 L239.89 333.16 L237.44 332.69 L235.00 332.22 L232.55 331.75 L230.10 331.27 L227.65 330.79 L225.20 330.31 L222.76 329.82 L220.31 329.33 L217.86 328.83 L215.41 328.33 L212.96 327.82 L210.52 327.31 L208.07 326.80 L205.62 326.28 L203.17 325.76 L200.72 325.23 L198.28 324.71 L195.83 324.17 L193.38 323.64 L190.93 323.10 L188.48 322.55 L186.04 322.01 L183.59 321.46 L181.14 320.91 L178.69 320.35 L176.24 319.80 L173.80 319.24 L171.35 318.67 L168.90 318.11 L166.45 317.55 L164.00 316.98 L161.56 316.41 L159.11 315.84 L156.66 315.28 L154.21 314.71 L151.76 314.14 L149.32 313.57 L146.87 313.01 L144.42 312.45 L141.97 311.89 L139.52 311.33 L137.08 310.78 L134.63 310.23 L132.18 309.69 L129.73 309.15 L127.28 308.62 L124.84 308.10 L122.39 307.60 L119.94 307.10 L117.49 306.61 L115.04 306.14 L112.60 305.68 L110.15 305.24 L107.70 304.82 L105.25 304.42 L102.80 304.04 L100.36 303.69 L97.91 303.36 L95.46 303.07 L93.01 302.80 L90.56 302.57 L88.12 302.38 L85.67 302.24 L83.22 302.13 L80.77 302.08 L78.32 302.08 L75.88 302.13 L73.43 302.25 L70.98 302.44 L68.53 302.70 L66.08 303.03 L63.64 303.45 L61.19 303.96 L58.74 304.57 L56.29 305.28 L53.84 306.10 L51.40 307.04 L48.95 308.10 L46.50 309.30 L45.34 309.90" fill="none" stroke="#000" stroke-width="2.20" stroke-dasharray="6.8 2.7 2.8 2.7" stroke-dashoffset="8.00"/><path d="M45.34 309.90 L46.73 309.18" stroke="#000" stroke-width="2.20"/>
<path d="M658.50 196.62 L656.05 196.69 L653.60 196.76 L651.16 196.83 L648.71 196.90 L646.26 196.97 L643.81 197.04 L641.36 197.11 L638.92 197.18 L636.47 197.25 L634.02 197.32 L631.57 197.39 L629.12 197.46 L626.68 197.53 L624.23 197.61 L621.78 197.68 L619.33 197.75 L616.88 197.82 L614.44 197.89 L611.99 197.96 L609.54 198.03 L607.09 198.11 L604.64 198.18 L602.20 198.25 L599.75 198.32 L597.30 198.39 L594.85 198.47 L592.40 198.54 L589.96 198.61 L587.51 198.68 L585.06 198.76 L582.61 198.83 L580.16 198.90 L577.72 198.98 L575.27 199.05 L572.82 199.12 L570.37 199.20 L567.92 199.27 L565.48 199.34 L563.03 199.42 L560.58 199.49 L558.13 199.57 L555.68 199.64 L553.24 199.72 L550.79 199.79 L548.34 199.87 L545.89 199.94 L543.44 200.02 L541.00 200.09 L538.55 200.17 L536.10 200.24 L533.65 200.32 L531.20 200.39 L528.76 200.47 L526.31 200.55 L523.86 200.62 L521.41 200.70 L518.96 200.78 L516.52 200.85 L514.07 200.93 L511.62 201.01 L509.17 201.09 L506.72 201.17 L504.28 201.24 L501.83 201.32 L499.38 201.40 L496.93 201.48 L494.48 201.56 L492.04 201.64 L489.59 201.72 L487.14 201.80 L484.69 201.88 L482.24 201.96 L479.80 202.04 L477.35 202.13 L474.90 202.21 L472.45 202.29 L470.00 202.37 L467.56 202.46 L465.11 202.54 L462.66 202.62 L460.21 202.71 L457.76 202.79 L455.32 202.88 L452.87 202.96 L450.42 203.05 L447.97 203.14 L445.52 203.23 L443.08 203.31 L440.63 203.40 L438.18 203.49 L435.73 203.58 L433.28 203.67 L430.84 203.76 L428.39 203.85 L425.94 203.95 L423.49 204.04 L421.04 204.13 L418.60 204.23 L416.15 204.32 L413.70 204.42 L411.25 204.52 L408.80 204.61 L406.36 204.71 L403.91 204.81 L401.46 204.91 L399.01 205.01 L396.56 205.12 L394.12 205.22 L391.67 205.32 L389.22 205.43 L386.77 205.54 L384.32 205.64 L381.88 205.75 L379.43 205.86 L376.98 205.98 L374.53 206.09 L372.08 206.20 L369.64 206.32 L367.19 206.43 L364.74 206.55 L362.29 206.67 L359.84 206.79 L357.40 206.92 L354.95 207.04 L352.50 207.17 L350.05 207.30 L347.60 207.42 L345.16 207.56 L342.71 207.69 L340.26 207.82 L337.81 207.96 L335.36 208.10 L332.92 208.24 L330.47 208.38 L328.02 208.53 L325.57 208.68 L323.12 208.82 L320.68 208.98 L318.23 209.13 L315.78 209.29 L313.33 209.44 L310.88 209.61 L308.44 209.77 L305.99 209.94 L303.54 210.10 L301.09 210.28 L298.64 210.45 L296.20 210.63 L293.75 210.81 L291.30 210.99 L288.85 211.17 L286.40 211.36 L283.96 211.55 L281.51 211.75 L279.06 211.95 L276.61 212.15 L274.16 212.35 L271.72 212.56 L269.27 212.77 L266.82 212.98 L264.37 213.20 L261.92 213.42 L259.48 213.64 L257.03 213.87 L254.58 214.10 L252.13 214.33 L249.68 214.56 L247.24 214.80 L244.79 215.04 L242.34 215.29 L239.89 215.54 L237.44 215.79 L235.00 216.04 L232.55 216.30 L230.10 216.56 L227.65 216.82 L225.20 217.08 L222.76 217.35 L220.31 217.62 L217.86 217.89 L215.41 218.16 L212.96 218.43 L210.52 218.70 L208.07 218.97 L205.62 219.25 L203.17 219.52 L200.72 219.79 L198.28 220.06 L195.83 220.33 L193.38 220.59 L190.93 220.86 L188.48 221.11 L186.04 221.37 L183.59 221.61 L181.14 221.85 L178.69 222.09 L176.24 222.31 L173.80 222.52 L171.35 222.72 L168.90 222.91 L166.45 223.08 L164.00 223.23 L161.56 223.37 L159.11 223.48 L156.66 223.57 L154.21 223.64 L151.76 223.68 L149.32 223.68 L146.87 223.65 L144.42 223.58 L141.97 223.47 L139.52 223.32 L137.08 223.11 L134.63 222.85 L132.18 222.53 L129.73 222.15 L127.28 221.69 L124.84 221.16 L122.39 220.54 L119.94 219.83 L117.49 219.02 L115.04 218.10 L112.60 217.07 L110.15 215.90 L107.70 214.60 L105.25 213.15 L102.80 211.54 L100.36 209.75 L97.91 207.78 L95.46 205.60 L93.01 203.20 L90.56 200.56 L88.12 197.66 L85.67 194.48 L83.22 191.01 L80.77 187.21 L78.32 183.06 L75.88 178.54 L73.43 173.62 L70.98 168.26 L68.53 162.44 L66.08 156.11 L63.64 149.25 L61.19 141.81 L58.74 133.75 L56.29 125.03 L53.84 115.59 L51.40 105.39 L48.95 94.38 L46.50 82.50 L46.25 81.23" fill="none" stroke="#000" stroke-width="2.20" stroke-dasharray="2.95 2.82" stroke-dashoffset="0.77"/><path d="M46.25 81.23 L46.55 82.75" stroke="#000" stroke-width="2.20"/>
<path d="M658.50 347.65 L656.05 347.59 L653.60 347.52 L651.16 347.45 L648.71 347.38 L646.26 347.32 L643.81 347.25 L641.36 347.18 L638.92 347.11 L636.47 347.04 L634.02 346.97 L631.57 346.91 L629.12 346.84 L626.68 346.77 L624.23 346.70 L621.78 346.63 L619.33 346.56 L616.88 346.49 L614.44 346.42 L611.99 346.36 L609.54 346.29 L607.09 346.22 L604.64 346.15 L602.20 346.08 L599.75 346.01 L597.30 345.94 L594.85 345.87 L592.40 345.80 L589.96 345.73 L587.51 345.66 L585.06 345.59 L582.61 345.52 L580.16 345.45 L577.72 345.37 L575.27 345.30 L572.82 345.23 L570.37 345.16 L567.92 345.09 L565.48 345.02 L563.03 344.95 L560.58 344.88 L558.13 344.80 L555.68 344.73 L553.24 344.66 L550.79 344.59 L548.34 344.52 L545.89 344.44 L543.44 344.37 L541.00 344.30 L538.55 344.22 L536.10 344.15 L533.65 344.08 L531.20 344.00 L528.76 343.93 L526.31 343.86 L523.86 343.78 L521.41 343.71 L518.96 343.63 L516.52 343.56 L514.07 343.49 L511.62 343.41 L509.17 343.33 L506.72 343.26 L504.28 343.18 L501.83 343.11 L499.38 343.03 L496.93 342.96 L494.48 342.88 L492.04 342.80 L489.59 342.72 L487.14 342.65 L484.69 342.57 L482.24 342.49 L479.80 342.41 L477.35 342.33 L474.90 342.25 L472.45 342.17 L470.00 342.09 L467.56 342.01 L465.11 341.93 L462.66 341.85 L460.21 341.77 L457.76 341.69 L455.32 341.61 L452.87 341.52 L450.42 341.44 L447.97 341.36 L445.52 341.27 L443.08 341.19 L440.63 341.10 L438.18 341.02 L435.73 340.93 L433.28 340.84 L430.84 340.76 L428.39 340.67 L425.94 340.58 L423.49 340.49 L421.04 340.40 L418.60 340.31 L416.15 340.21 L413.70 340.12 L411.25 340.03 L408.80 339.93 L406.36 339.84 L403.91 339.74 L401.46 339.65 L399.01 339.55 L396.56 339.45 L394.12 339.35 L391.67 339.25 L389.22 339.15 L386.77 339.04 L384.32 338.94 L381.88 338.83 L379.43 338.73 L376.98 338.62 L374.53 338.51 L372.08 338.40 L369.64 338.29 L367.19 338.18 L364.74 338.06 L362.29 337.95 L359.84 337.83 L357.40 337.71 L354.95 337.59 L352.50 337.47 L350.05 337.34 L347.60 337.22 L345.16 337.09 L342.71 336.96 L340.26 336.83 L337.81 336.70 L335.36 336.56 L332.92 336.43 L330.47 336.29 L328.02 336.15 L325.57 336.00 L323.12 335.86 L320.68 335.71 L318.23 335.56 L315.78 335.40 L313.33 335.25 L310.88 335.09 L308.44 334.93 L305.99 334.76 L303.54 334.60 L301.09 334.43 L298.64 334.25 L296.20 334.08 L293.75 333.90 L291.30 333.72 L288.85 333.53 L286.40 333.34 L283.96 333.15 L281.51 332.95 L279.06 332.75 L276.61 332.55 L274.16 332.34 L271.72 332.13 L269.27 331.91 L266.82 331.69 L264.37 331.47 L261.92 331.24 L259.48 331.01 L257.03 330.77 L254.58 330.53 L252.13 330.28 L249.68 330.03 L247.24 329.77 L244.79 329.51 L242.34 329.24 L239.89 328.97 L237.44 328.69 L235.00 328.41 L232.55 328.12 L230.10 327.82 L227.65 327.52 L225.20 327.21 L222.76 326.90 L220.31 326.58 L217.86 326.26 L215.41 325.92 L212.96 325.59 L210.52 325.24 L208.07 324.89 L205.62 324.53 L203.17 324.17 L200.72 323.79 L198.28 323.41 L195.83 323.03 L193.38 322.64 L190.93 322.23 L188.48 321.83 L186.04 321.41 L183.59 320.99 L181.14 320.56 L178.69 320.13 L176.24 319.68 L173.80 319.23 L171.35 318.78 L168.90 318.31 L166.45 317.84 L164.00 317.36 L161.56 316.88 L159.11 316.39 L156.66 315.90 L154.21 315.39 L151.76 314.89 L149.32 314.38 L146.87 313.86 L144.42 313.34 L141.97 312.82 L139.52 312.29 L137.08 311.77 L134.63 311.24 L132.18 310.71 L129.73 310.18 L127.28 309.65 L124.84 309.13 L122.39 308.61 L119.94 308.09 L117.49 307.59 L115.04 307.09 L112.60 306.60 L110.15 306.12 L107.70 305.66 L105.25 305.21 L102.80 304.79 L100.36 304.38 L97.91 304.01 L95.46 303.65 L93.01 303.33 L90.56 303.05 L88.12 302.80 L85.67 302.59 L83.22 302.44 L80.77 302.33 L78.32 302.28 L75.88 302.29 L73.43 302.37 L70.98 302.52 L68.53 302.74 L66.08 303.05 L63.64 303.46 L61.19 303.95 L58.74 304.55 L56.29 305.26 L53.84 306.08 L51.40 307.03 L48.95 308.10 L46.50 309.30 L45.34 309.90" fill="none" stroke="#000" stroke-width="2.20" stroke-dasharray="2.95 2.82" stroke-dashoffset="3.04"/><path d="M45.34 309.90 L46.73 309.18" stroke="#000" stroke-width="2.20"/>
<path d="M655.80 347.58 L658.80 347.65" stroke="#000" stroke-width="2.20"/>
<path d="M658.50 188.89 L656.05 188.95 L653.60 189.02 L651.16 189.09 L648.71 189.16 L646.26 189.23 L643.81 189.30 L641.36 189.37 L638.92 189.44 L636.47 189.51 L634.02 189.58 L631.57 189.65 L629.12 189.73 L626.68 189.80 L624.23 189.88 L621.78 189.95 L619.33 190.03 L616.88 190.11 L614.44 190.19 L611.99 190.26 L609.54 190.34 L607.09 190.42 L604.64 190.51 L602.20 190.59 L599.75 190.67 L597.30 190.75 L594.85 190.84 L592.40 190.92 L589.96 191.01 L587.51 191.09 L585.06 191.18 L582.61 191.27 L580.16 191.35 L577.72 191.44 L575.27 191.53 L572.82 191.62 L570.37 191.72 L567.92 191.81 L565.48 191.90 L563.03 192.00 L560.58 192.09 L558.13 192.19 L555.68 192.28 L553.24 192.38 L550.79 192.48 L548.34 192.58 L545.89 192.68 L543.44 192.78 L541.00 192.88 L538.55 192.98 L536.10 193.09 L533.65 193.19 L531.20 193.29 L528.76 193.40 L526.31 193.51 L523.86 193.62 L521.41 193.72 L518.96 193.83 L516.52 193.95 L514.07 194.06 L511.62 194.17 L509.17 194.28 L506.72 194.40 L504.28 194.51 L501.83 194.63 L499.38 194.75 L496.93 194.87 L494.48 194.99 L492.04 195.11 L489.59 195.23 L487.14 195.35 L484.69 195.47 L482.24 195.60 L479.80 195.72 L477.35 195.85 L474.90 195.98 L472.45 196.11 L470.00 196.24 L467.56 196.37 L465.11 196.50 L462.66 196.63 L460.21 196.77 L457.76 196.90 L455.32 197.04 L452.87 197.18 L450.42 197.32 L447.97 197.46 L445.52 197.60 L443.08 197.74 L440.63 197.89 L438.18 198.03 L435.73 198.18 L433.28 198.33 L430.84 198.48 L428.39 198.63 L425.94 198.78 L423.49 198.93 L421.04 199.08 L418.60 199.24 L416.15 199.40 L413.70 199.56 L411.25 199.71 L408.80 199.88 L406.36 200.04 L403.91 200.20 L401.46 200.37 L399.01 200.53 L396.56 200.70 L394.12 200.87 L391.67 201.04 L389.22 201.21 L386.77 201.39 L384.32 201.56 L381.88 201.74 L379.43 201.92 L376.98 202.10 L374.53 202.28 L372.08 202.47 L369.64 202.65 L367.19 202.84 L364.74 203.03 L362.29 203.22 L359.84 203.41 L357.40 203.60 L354.95 203.80 L352.50 204.00 L350.05 204.19 L347.60 204.39 L345.16 204.60 L342.71 204.80 L340.26 205.01 L337.81 205.22 L335.36 205.43 L332.92 205.64 L330.47 205.85 L328.02 206.07 L325.57 206.29 L323.12 206.51 L320.68 206.73 L318.23 206.96 L315.78 207.18 L313.33 207.41 L310.88 207.64 L308.44 207.87 L305.99 208.11 L303.54 208.35 L301.09 208.59 L298.64 208.83 L296.20 209.07 L293.75 209.32 L291.30 209.57 L288.85 209.82 L286.40 210.07 L283.96 210.33 L281.51 210.58 L279.06 210.84 L276.61 211.11 L274.16 211.37 L271.72 211.64 L269.27 211.91 L266.82 212.18 L264.37 212.45 L261.92 212.73 L259.48 213.01 L257.03 213.29 L254.58 213.57 L252.13 213.85 L249.68 214.14 L247.24 214.43 L244.79 214.72 L242.34 215.01 L239.89 215.30 L237.44 215.60 L235.00 215.89 L232.55 216.19 L230.10 216.49 L227.65 216.79 L225.20 217.09 L222.76 217.39 L220.31 217.69 L217.86 217.99 L215.41 218.29 L212.96 218.60 L210.52 218.90 L208.07 219.19 L205.62 219.49 L203.17 219.78 L200.72 220.08 L198.28 220.37 L195.83 220.65 L193.38 220.93 L190.93 221.21 L188.48 221.48 L186.04 221.74 L183.59 221.99 L181.14 222.24 L178.69 222.48 L176.24 222.70 L173.80 222.92 L171.35 223.12 L168.90 223.30 L166.45 223.47 L164.00 223.62 L161.56 223.75 L159.11 223.86 L156.66 223.94 L154.21 224.00 L151.76 224.03 L149.32 224.02 L146.87 223.98 L144.42 223.90 L141.97 223.78 L139.52 223.61 L137.08 223.39 L134.63 223.11 L132.18 222.78 L129.73 222.37 L127.28 221.90 L124.84 221.35 L122.39 220.72 L119.94 219.99 L117.49 219.17 L115.04 218.23 L112.60 217.18 L110.15 216.01 L107.70 214.69 L105.25 213.23 L102.80 211.61 L100.36 209.81 L97.91 207.83 L95.46 205.64 L93.01 203.23 L90.56 200.58 L88.12 197.68 L85.67 194.50 L83.22 191.02 L80.77 187.22 L78.32 183.07 L75.88 178.54 L73.43 173.62 L70.98 168.26 L68.53 162.44 L66.08 156.11 L63.64 149.25 L61.19 141.81 L58.74 133.75 L56.29 125.03 L53.84 115.59 L51.40 105.39 L48.95 94.38 L46.50 82.50 L46.25 81.23" fill="none" stroke="#000" stroke-width="2.20" stroke-dasharray="2.8 5.3 18 4.8 18 5.3" stroke-dashoffset="48.20"/><path d="M46.25 81.23 L46.55 82.75" stroke="#000" stroke-width="2.20"/>
<path d="M655.20 188.98 L658.80 188.89" stroke="#000" stroke-width="2.20"/>
<path d="M658.50 355.14 L656.05 355.08 L653.60 355.01 L651.16 354.95 L648.71 354.88 L646.26 354.81 L643.81 354.75 L641.36 354.68 L638.92 354.61 L636.47 354.54 L634.02 354.47 L631.57 354.40 L629.12 354.33 L626.68 354.26 L624.23 354.18 L621.78 354.11 L619.33 354.04 L616.88 353.96 L614.44 353.89 L611.99 353.81 L609.54 353.74 L607.09 353.66 L604.64 353.58 L602.20 353.50 L599.75 353.42 L597.30 353.34 L594.85 353.26 L592.40 353.18 L589.96 353.10 L587.51 353.01 L585.06 352.93 L582.61 352.85 L580.16 352.76 L577.72 352.68 L575.27 352.59 L572.82 352.50 L570.37 352.41 L567.92 352.32 L565.48 352.23 L563.03 352.14 L560.58 352.05 L558.13 351.96 L555.68 351.87 L553.24 351.77 L550.79 351.68 L548.34 351.58 L545.89 351.49 L543.44 351.39 L541.00 351.29 L538.55 351.19 L536.10 351.09 L533.65 350.99 L531.20 350.89 L528.76 350.79 L526.31 350.69 L523.86 350.58 L521.41 350.48 L518.96 350.37 L516.52 350.27 L514.07 350.16 L511.62 350.05 L509.17 349.94 L506.72 349.83 L504.28 349.72 L501.83 349.61 L499.38 349.49 L496.93 349.38 L494.48 349.26 L492.04 349.15 L489.59 349.03 L487.14 348.91 L484.69 348.79 L482.24 348.67 L479.80 348.55 L477.35 348.43 L474.90 348.31 L472.45 348.18 L470.00 348.06 L467.56 347.93 L465.11 347.80 L462.66 347.67 L460.21 347.54 L457.76 347.41 L455.32 347.28 L452.87 347.15 L450.42 347.01 L447.97 346.88 L445.52 346.74 L443.08 346.60 L440.63 346.47 L438.18 346.33 L435.73 346.18 L433.28 346.04 L430.84 345.90 L428.39 345.75 L425.94 345.61 L423.49 345.46 L421.04 345.31 L418.60 345.16 L416.15 345.01 L413.70 344.86 L411.25 344.70 L408.80 344.55 L406.36 344.39 L403.91 344.23 L401.46 344.07 L399.01 343.91 L396.56 343.75 L394.12 343.59 L391.67 343.42 L389.22 343.26 L386.77 343.09 L384.32 342.92 L381.88 342.75 L379.43 342.58 L376.98 342.40 L374.53 342.23 L372.08 342.05 L369.64 341.87 L367.19 341.69 L364.74 341.51 L362.29 341.32 L359.84 341.14 L357.40 340.95 L354.95 340.76 L352.50 340.57 L350.05 340.37 L347.60 340.18 L345.16 339.98 L342.71 339.78 L340.26 339.58 L337.81 339.38 L335.36 339.18 L332.92 338.97 L330.47 338.76 L328.02 338.55 L325.57 338.34 L323.12 338.12 L320.68 337.91 L318.23 337.69 L315.78 337.47 L313.33 337.24 L310.88 337.01 L308.44 336.79 L305.99 336.55 L303.54 336.32 L301.09 336.09 L298.64 335.85 L296.20 335.60 L293.75 335.36 L291.30 335.11 L288.85 334.86 L286.40 334.61 L283.96 334.36 L281.51 334.10 L279.06 333.84 L276.61 333.57 L274.16 333.31 L271.72 333.04 L269.27 332.76 L266.82 332.49 L264.37 332.21 L261.92 331.92 L259.48 331.64 L257.03 331.34 L254.58 331.05 L252.13 330.75 L249.68 330.45 L247.24 330.15 L244.79 329.84 L242.34 329.52 L239.89 329.21 L237.44 328.88 L235.00 328.56 L232.55 328.23 L230.10 327.90 L227.65 327.56 L225.20 327.21 L222.76 326.87 L220.31 326.51 L217.86 326.16 L215.41 325.79 L212.96 325.43 L210.52 325.06 L208.07 324.68 L205.62 324.30 L203.17 323.91 L200.72 323.52 L198.28 323.12 L195.83 322.72 L193.38 322.31 L190.93 321.90 L188.48 321.48 L186.04 321.05 L183.59 320.62 L181.14 320.19 L178.69 319.74 L176.24 319.30 L173.80 318.84 L171.35 318.39 L168.90 317.92 L166.45 317.46 L164.00 316.98 L161.56 316.50 L159.11 316.02 L156.66 315.53 L154.21 315.04 L151.76 314.54 L149.32 314.04 L146.87 313.54 L144.42 313.03 L141.97 312.52 L139.52 312.01 L137.08 311.50 L134.63 310.98 L132.18 310.47 L129.73 309.96 L127.28 309.44 L124.84 308.94 L122.39 308.43 L119.94 307.93 L117.49 307.44 L115.04 306.96 L112.60 306.48 L110.15 306.02 L107.70 305.57 L105.25 305.14 L102.80 304.72 L100.36 304.33 L97.91 303.96 L95.46 303.61 L93.01 303.30 L90.56 303.02 L88.12 302.78 L85.67 302.58 L83.22 302.43 L80.77 302.32 L78.32 302.27 L75.88 302.29 L73.43 302.37 L70.98 302.52 L68.53 302.74 L66.08 303.05 L63.64 303.46 L61.19 303.95 L58.74 304.55 L56.29 305.26 L53.84 306.08 L51.40 307.03 L48.95 308.10 L46.50 309.30 L45.34 309.90" fill="none" stroke="#000" stroke-width="2.20" stroke-dasharray="2.8 5.3 18 4.8 18 5.3" stroke-dashoffset="27.40"/><path d="M45.34 309.90 L46.73 309.18" stroke="#000" stroke-width="2.20"/>
<path d="M655.00 355.05 L658.80 355.14" stroke="#000" stroke-width="2.20"/>
</g>
<g font-family="Liberation Sans, sans-serif" font-size="10" fill="#000">
<text x="43.1" y="388.50" text-anchor="end">0.0</text>
<text x="43.1" y="312.90" text-anchor="end">0.2</text>
<text x="43.1" y="237.30" text-anchor="end">0.4</text>
<text x="43.1" y="161.70" text-anchor="end">0.6</text>
<text x="43.1" y="86.10" text-anchor="end">0.8</text>
<text x="43.1" y="10.50" text-anchor="end">1.0</text>
<text x="47.00" y="398.8" text-anchor="middle">0</text>
<text x="200.00" y="398.8" text-anchor="middle">5</text>
<text x="353.00" y="398.8" text-anchor="middle">10</text>
<text x="506.00" y="398.8" text-anchor="middle">15</text>
<text x="657.90" y="398.8" text-anchor="middle">20</text>
</g>
<text font-family="Liberation Sans, sans-serif" font-size="16.1" font-weight="bold" fill="#000" text-anchor="middle" transform="translate(16.3 195.4) rotate(-90)">Population fraction</text>
<text font-family="Liberation Sans, sans-serif" font-size="16" fill="#000" text-anchor="middle" x="352.8" y="425.2">t</text>
<text font-family="Liberation Sans, sans-serif" font-size="16.3" fill="#000" x="65.6" y="88.2">s(t)</text>
<text font-family="Liberation Sans, sans-serif" font-size="16.3" fill="#000" x="67.4" y="334.3">i(t)</text>
<g font-family="Liberation Sans, sans-serif" font-size="11.5" fill="#0000ff">
<text x="139.3" y="175.7" font-style="italic" font-size="12.4">s</text><text x="146.4" y="171.9" font-size="9" text-anchor="middle">*</text><text x="153.6" y="175.7" font-size="11.7">= 0.5375</text>
<text x="140.6" y="354.7" font-style="italic" font-size="12.2">i</text><text x="145.2" y="350.8" font-size="9" text-anchor="middle">*</text><text x="152.0" y="354.7" font-size="11.6">= 0.0605</text>
</g>
<line x1="322.1" x2="369" y1="30.5" y2="30.5" stroke="#ff0000" stroke-width="1.9"/>
<line x1="322.1" x2="365.7" y1="52.4" y2="52.4" stroke="#000" stroke-width="2.20" stroke-dasharray="6.6 2.66"/>
<line x1="322.1" x2="364.4" y1="74.4" y2="74.4" stroke="#000" stroke-width="2.20" stroke-dasharray="2.8 2.7 6.8 2.7"/>
<line x1="322.1" x2="365.7" y1="96.0" y2="96.0" stroke="#000" stroke-width="2.20" stroke-dasharray="3 2.8"/>
<line x1="322.1" x2="369.0" y1="117.8" y2="117.8" stroke="#000" stroke-width="2.20" stroke-dasharray="12.2 2.7 12.2 2.7 3 2.7"/>
<g font-family="Liberation Sans, sans-serif" font-size="11.7" fill="#000">
<text x="374.3" y="34.6">Numerical</text>
<text x="374.3" y="56.5">BLUES n = 0</text>
<text x="374.3" y="78.5">BLUES n = 1</text>
<text x="374.3" y="100.1">BLUES n = 2</text>
<text x="374.3" y="121.9">BLUES n = 3</text>
</g>
</svg>
</body></html>
